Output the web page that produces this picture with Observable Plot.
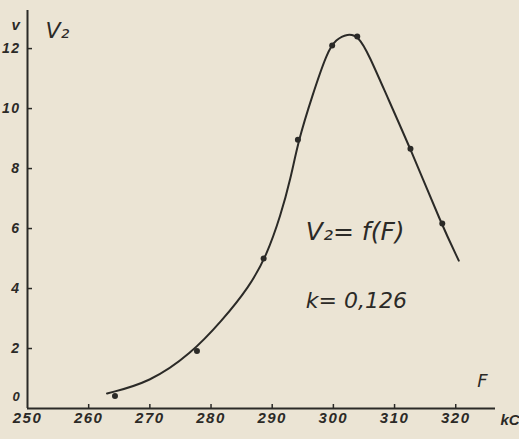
<!DOCTYPE html>
<html>
<head>
<meta charset="utf-8">
<script src="https://cdn.jsdelivr.net/npm/d3@7"></script>
<script src="https://cdn.jsdelivr.net/npm/@observablehq/plot@0.6"></script>
<style>
  html, body { margin: 0; padding: 0; background: #ebe4d4; }
  #chart svg { display: block; }
  #chart g[aria-label="x-axis tick label"] text,
  #chart g[aria-label="y-axis tick label"] text { letter-spacing: 1.5px; }
</style>
</head>
<body>
<div id="chart"></div>
<script>
// Measured points (F in kC, V2 in V)
const pointF = [264.3, 277.7, 288.6, 294.2, 299.8, 303.9, 312.6, 317.8];
const pointV = [0.42, 1.92, 5.0, 8.96, 12.1, 12.4, 8.66, 6.17];

// Hand-drawn smooth curve (control points of a B-spline)
const curveF = [263, 270, 276.7, 281.8, 286.2, 289.1, 291.4, 293.0, 294.3, 296.5, 299, 300.4, 302.3, 304.1, 305.8, 309, 312.6, 317.7, 320.5];
const curveV = [0.5, 0.87, 1.82, 2.93, 4.04, 5.1, 6.45, 7.65, 8.95, 10.4, 11.9, 12.3, 12.5, 12.42, 11.8, 10.3, 8.66, 6.13, 4.93];

// Tick labels
const xTicks = [250, 260, 270, 280, 290, 300, 310, 320];
const yTicks = [2, 4, 6, 8, 10, 12];

const points = pointF.map((f, i) => ({F: f, V: pointV[i]}));
const curve = curveF.map((f, i) => ({F: f, V: curveV[i]}));

const ink = "#2b2a27";
const W = 519, H = 439, mL = 27, mR = 24, mT = 10, mB = 31;
const frameW = W - mL - mR, frameH = H - mT - mB;
const tickFont = "'Liberation Sans', Arial, sans-serif";
const handFont = "'DejaVu Sans', sans-serif";

const chart = Plot.plot({
  width: W, height: H,
  marginLeft: mL, marginRight: mR, marginTop: mT, marginBottom: mB,
  style: {background: "#ebe4d4", color: ink, overflow: "visible"},
  x: {domain: [250, 326.5]},
  y: {domain: [0, 13.27]},
  marks: [
    // axis lines
    Plot.ruleX([250], {stroke: ink, strokeWidth: 2}),
    Plot.ruleY([0], {stroke: ink, strokeWidth: 2}),
    // tick marks
    Plot.ruleX(xTicks.slice(1), {x: d => d, stroke: ink, strokeWidth: 1.5, insetTop: frameH - 4}),
    Plot.ruleY(yTicks, {y: d => d, stroke: ink, strokeWidth: 1.5, insetRight: frameW - 5}),
    // tick labels
    Plot.axisX({ticks: xTicks, tickSize: 0, tickPadding: 4, label: null,
      fontSize: 15, fontWeight: "bold", fontStyle: "italic", fontFamily: tickFont, fill: ink}),
    Plot.axisY({ticks: yTicks, tickSize: 0, tickPadding: 7, label: null,
      fontSize: 14, fontWeight: "bold", fontStyle: "italic", fontFamily: tickFont, fill: ink}),
    Plot.text(["0"], {frameAnchor: "bottom-left", dx: -15, dy: -8, fontSize: 13,
      fontWeight: "bold", fontStyle: "italic", fontFamily: tickFont, fill: ink}),
    // curve and points
    Plot.line(curve, {x: "F", y: "V", curve: "basis", stroke: ink, strokeWidth: 2}),
    Plot.dot(points, {x: "F", y: "V", r: 3, fill: ink}),
    // axis titles
    Plot.text(["v"], {frameAnchor: "top-left", dx: -16, dy: 9, fontSize: 15,
      fontStyle: "italic", fontWeight: "bold", fontFamily: tickFont, fill: ink}),
    Plot.text(["V₂"], {frameAnchor: "top-left", dx: 18, dy: 12, fontSize: 22,
      fontStyle: "italic", fontFamily: handFont, fill: ink}),
    Plot.text(["F"], {frameAnchor: "bottom-right", dx: -8, dy: -22, fontSize: 18,
      fontStyle: "italic", fontFamily: handFont, fill: ink}),
    Plot.text(["kC"], {frameAnchor: "bottom-right", dx: 5, dy: 16, textAnchor: "start", fontSize: 15,
      fontStyle: "italic", fontWeight: "bold", fontFamily: tickFont, fill: ink}),
    // annotations
    Plot.text(["V₂= f(F)"], {x: 295.5, y: 5.9, textAnchor: "start", fontSize: 25,
      fontStyle: "italic", fontFamily: handFont, fill: ink}),
    Plot.text(["k= 0,126"], {x: 295.5, y: 3.6, textAnchor: "start", fontSize: 22,
      fontStyle: "italic", fontFamily: handFont, fill: ink})
  ]
});
document.getElementById("chart").append(chart);
</script>
</body>
</html>
